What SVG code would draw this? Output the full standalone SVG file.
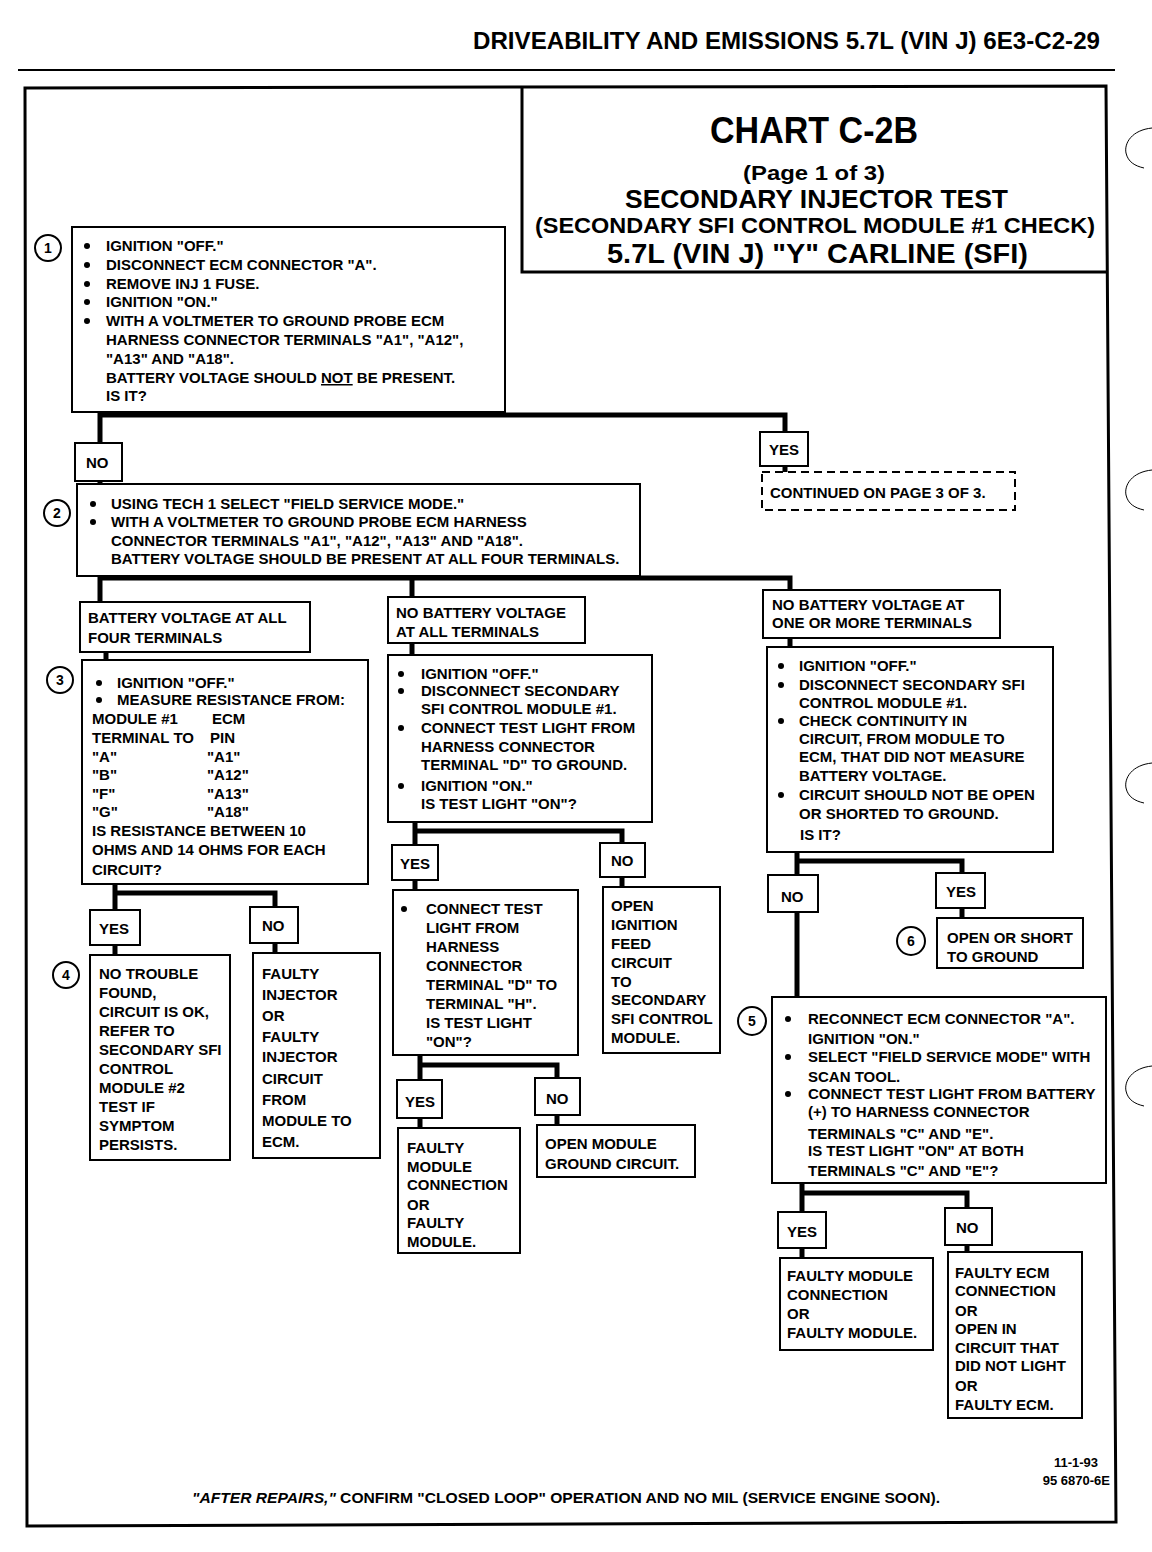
<svg xmlns="http://www.w3.org/2000/svg" width="1152" height="1552" viewBox="0 0 1152 1552">
<style>
.bx{fill:#fff;stroke:#000;stroke-width:2}
.t{font-family:"Liberation Sans",Arial,sans-serif;font-weight:bold;font-size:15px;fill:#000}
.c{fill:none;stroke:#000;stroke-width:5}
.num{fill:#fff;stroke:#000;stroke-width:2}
.nt{font-family:"Liberation Sans",Arial,sans-serif;font-weight:bold;font-size:14px;text-anchor:middle;fill:#000}
.dot{fill:#000}
.hole{fill:none;stroke:#000;stroke-width:1}
</style>
<rect width="1152" height="1552" fill="#fff"/>

<g id="page">
  <text class="t" x="473" y="49" style="font-size:24px" textLength="627" lengthAdjust="spacingAndGlyphs">DRIVEABILITY AND EMISSIONS  5.7L  (VIN J)  6E3-C2-29</text>
  <line x1="18" y1="70" x2="1115" y2="70" stroke="#000" stroke-width="2"/>
  <path d="M25,88 L1106,86 L1116,1522 L27,1526 Z" fill="none" stroke="#000" stroke-width="3"/>
  <path class="hole" d="M1152,128 C1132,130 1124,143 1126,153 C1128,162 1135,166 1144,168"/>
  <path class="hole" d="M1152,470 C1132,472 1124,485 1126,495 C1128,504 1135,508 1144,510"/>
  <path class="hole" d="M1152,763 C1132,765 1124,778 1126,788 C1128,797 1135,801 1144,803"/>
  <path class="hole" d="M1152,1066 C1132,1068 1124,1081 1126,1091 C1128,1100 1135,1104 1144,1106"/>
</g>

<g id="title">
  <path d="M522,87 V272 H1107" fill="none" stroke="#000" stroke-width="3"/>
  <text class="t" x="710" y="143" style="font-size:36px" textLength="208" lengthAdjust="spacingAndGlyphs">CHART C-2B</text>
  <text class="t" x="743" y="180" style="font-size:21px" textLength="142" lengthAdjust="spacingAndGlyphs">(Page 1 of 3)</text>
  <text class="t" x="625" y="208" style="font-size:25px" textLength="383" lengthAdjust="spacingAndGlyphs">SECONDARY INJECTOR TEST</text>
  <text class="t" x="535" y="233" style="font-size:22px" textLength="560" lengthAdjust="spacingAndGlyphs">(SECONDARY SFI CONTROL MODULE #1 CHECK)</text>
  <text class="t" x="607" y="263" style="font-size:27px" textLength="421" lengthAdjust="spacingAndGlyphs">5.7L  (VIN J)  "Y"  CARLINE  (SFI)</text>
</g>

<g id="connectors">
  <path class="c" d="M100,412 V443 M100,415 H785 V432 M785,466 V472 M100,481 V484"/>
  <path class="c" d="M100,576 V602 M100,578 H790 V590 M412,578 V597 M106,652 V660 M412,643 V655 M790,638 V647"/>
  <path class="c" d="M115,884 V910 M115,893 H275 V907 M115,945 V955 M275,943 V953"/>
  <path class="c" d="M415,822 V845 M415,831 H622 V843 M415,880 V890 M622,877 V887"/>
  <path class="c" d="M420,1055 V1080 M420,1065 H557 V1078 M420,1118 V1128 M557,1115 V1125"/>
  <path class="c" d="M797,852 V875 M797,861 H962 V873 M962,908 V918 M797,912 V997"/>
  <path class="c" d="M802,1183 V1212 M802,1193 H967 V1208 M802,1248 V1258 M967,1245 V1252"/>
</g>

<g id="n1">
  <circle class="num" cx="48" cy="248" r="13"/><text class="nt" x="48" y="253">1</text>
  <rect class="bx" x="72" y="227" width="433" height="185"/>
  <circle class="dot" cx="87" cy="246" r="3"/><circle class="dot" cx="87" cy="265" r="3"/><circle class="dot" cx="87" cy="284" r="3"/><circle class="dot" cx="87" cy="302" r="3"/><circle class="dot" cx="87" cy="321" r="3"/>
  <text class="t" x="106" y="251">IGNITION "OFF."</text>
  <text class="t" x="106" y="270">DISCONNECT ECM CONNECTOR "A".</text>
  <text class="t" x="106" y="289">REMOVE INJ 1 FUSE.</text>
  <text class="t" x="106" y="307">IGNITION "ON."</text>
  <text class="t" x="106" y="326">WITH A VOLTMETER TO GROUND PROBE ECM</text>
  <text class="t" x="106" y="345">HARNESS CONNECTOR TERMINALS "A1", "A12",</text>
  <text class="t" x="106" y="364">"A13" AND "A18".</text>
  <text class="t" x="106" y="383">BATTERY VOLTAGE SHOULD <tspan text-decoration="underline">NOT</tspan> BE PRESENT.</text>
  <text class="t" x="106" y="401">IS IT?</text>
</g>

<g id="l1no"><rect class="bx" x="75" y="443" width="47" height="38"/><text class="t" x="86" y="468">NO</text></g>
<g id="l1yes"><rect class="bx" x="760" y="432" width="48" height="34"/><text class="t" x="769" y="455">YES</text></g>
<g id="cont">
  <rect x="762" y="472" width="253" height="38" fill="#fff" stroke="#000" stroke-width="2" stroke-dasharray="8,5"/>
  <text class="t" x="770" y="498">CONTINUED ON PAGE 3 OF 3.</text>
</g>

<g id="n2">
  <circle class="num" cx="57" cy="513" r="13"/><text class="nt" x="57" y="518">2</text>
  <rect class="bx" x="77" y="484" width="563" height="92"/>
  <circle class="dot" cx="93" cy="504" r="3"/><circle class="dot" cx="93" cy="522" r="3"/>
  <text class="t" x="111" y="509">USING TECH 1 SELECT "FIELD SERVICE MODE."</text>
  <text class="t" x="111" y="527">WITH A VOLTMETER TO GROUND PROBE ECM HARNESS</text>
  <text class="t" x="111" y="546">CONNECTOR TERMINALS "A1", "A12", "A13" AND "A18".</text>
  <text class="t" x="111" y="564">BATTERY VOLTAGE SHOULD BE PRESENT AT ALL FOUR TERMINALS.</text>
</g>

<g id="l2a"><rect class="bx" x="80" y="602" width="230" height="50"/>
  <text class="t" x="88" y="623">BATTERY VOLTAGE AT ALL</text><text class="t" x="88" y="643">FOUR TERMINALS</text></g>

<g id="n3">
  <circle class="num" cx="60" cy="680" r="13"/><text class="nt" x="60" y="685">3</text>
  <rect class="bx" x="82" y="660" width="286" height="224"/>
  <circle class="dot" cx="99" cy="683" r="3"/><circle class="dot" cx="99" cy="700" r="3"/>
  <text class="t" x="117" y="688">IGNITION "OFF."</text>
  <text class="t" x="117" y="705">MEASURE RESISTANCE FROM:</text>
  <text class="t" x="92" y="724">MODULE #1</text><text class="t" x="212" y="724">ECM</text>
  <text class="t" x="92" y="743">TERMINAL TO</text><text class="t" x="210" y="743">PIN</text>
  <text class="t" x="92" y="762">"A"</text><text class="t" x="207" y="762">"A1"</text>
  <text class="t" x="92" y="780">"B"</text><text class="t" x="207" y="780">"A12"</text>
  <text class="t" x="92" y="799">"F"</text><text class="t" x="207" y="799">"A13"</text>
  <text class="t" x="92" y="817">"G"</text><text class="t" x="207" y="817">"A18"</text>
  <text class="t" x="92" y="836">IS RESISTANCE BETWEEN 10</text>
  <text class="t" x="92" y="855">OHMS AND 14 OHMS FOR EACH</text>
  <text class="t" x="92" y="875">CIRCUIT?</text>
</g>

<g id="l3yes"><rect class="bx" x="90" y="910" width="50" height="35"/><text class="t" x="99" y="934">YES</text></g>
<g id="l3no"><rect class="bx" x="250" y="907" width="48" height="36"/><text class="t" x="262" y="931">NO</text></g>

<g id="n4">
  <circle class="num" cx="66" cy="975" r="13"/><text class="nt" x="66" y="980">4</text>
  <rect class="bx" x="90" y="955" width="140" height="205"/>
  <text class="t" x="99" y="979">NO TROUBLE</text>
  <text class="t" x="99" y="998">FOUND,</text>
  <text class="t" x="99" y="1017">CIRCUIT IS OK,</text>
  <text class="t" x="99" y="1036">REFER TO</text>
  <text class="t" x="99" y="1055">SECONDARY SFI</text>
  <text class="t" x="99" y="1074">CONTROL</text>
  <text class="t" x="99" y="1093">MODULE #2</text>
  <text class="t" x="99" y="1112">TEST  IF</text>
  <text class="t" x="99" y="1131">SYMPTOM</text>
  <text class="t" x="99" y="1150">PERSISTS.</text>
</g>

<g id="faultyInj">
  <rect class="bx" x="253" y="953" width="127" height="205"/>
  <text class="t" x="262" y="979">FAULTY</text>
  <text class="t" x="262" y="1000">INJECTOR</text>
  <text class="t" x="262" y="1021">OR</text>
  <text class="t" x="262" y="1042">FAULTY</text>
  <text class="t" x="262" y="1062">INJECTOR</text>
  <text class="t" x="262" y="1084">CIRCUIT</text>
  <text class="t" x="262" y="1105">FROM</text>
  <text class="t" x="262" y="1126">MODULE TO</text>
  <text class="t" x="262" y="1147">ECM.</text>
</g>

<g id="l2b"><rect class="bx" x="388" y="597" width="197" height="46"/>
  <text class="t" x="396" y="618">NO BATTERY VOLTAGE</text><text class="t" x="396" y="637">AT ALL TERMINALS</text></g>

<g id="mid1">
  <rect class="bx" x="388" y="655" width="264" height="167"/>
  <circle class="dot" cx="401" cy="674" r="3"/><circle class="dot" cx="401" cy="691" r="3"/><circle class="dot" cx="401" cy="728" r="3"/><circle class="dot" cx="401" cy="786" r="3"/>
  <text class="t" x="421" y="679">IGNITION "OFF."</text>
  <text class="t" x="421" y="696">DISCONNECT SECONDARY</text>
  <text class="t" x="421" y="714">SFI CONTROL MODULE #1.</text>
  <text class="t" x="421" y="733">CONNECT TEST LIGHT FROM</text>
  <text class="t" x="421" y="752">HARNESS CONNECTOR</text>
  <text class="t" x="421" y="770">TERMINAL "D" TO GROUND.</text>
  <text class="t" x="421" y="791">IGNITION "ON."</text>
  <text class="t" x="421" y="809">IS TEST LIGHT "ON"?</text>
</g>

<g id="m1yes"><rect class="bx" x="392" y="845" width="46" height="35"/><text class="t" x="400" y="869">YES</text></g>
<g id="m1no"><rect class="bx" x="600" y="843" width="45" height="34"/><text class="t" x="611" y="866">NO</text></g>

<g id="mid2">
  <rect class="bx" x="393" y="890" width="185" height="165"/>
  <circle class="dot" cx="404" cy="909" r="3"/>
  <text class="t" x="426" y="914">CONNECT TEST</text>
  <text class="t" x="426" y="933">LIGHT FROM</text>
  <text class="t" x="426" y="952">HARNESS</text>
  <text class="t" x="426" y="971">CONNECTOR</text>
  <text class="t" x="426" y="990">TERMINAL "D" TO</text>
  <text class="t" x="426" y="1009">TERMINAL "H".</text>
  <text class="t" x="426" y="1028">IS TEST LIGHT</text>
  <text class="t" x="426" y="1047">"ON"?</text>
</g>

<g id="openIgn">
  <rect class="bx" x="603" y="887" width="117" height="166"/>
  <text class="t" x="611" y="911">OPEN</text>
  <text class="t" x="611" y="930">IGNITION</text>
  <text class="t" x="611" y="949">FEED</text>
  <text class="t" x="611" y="968">CIRCUIT</text>
  <text class="t" x="611" y="987">TO</text>
  <text class="t" x="611" y="1005">SECONDARY</text>
  <text class="t" x="611" y="1024">SFI CONTROL</text>
  <text class="t" x="611" y="1043">MODULE.</text>
</g>

<g id="m2yes"><rect class="bx" x="397" y="1080" width="45" height="38"/><text class="t" x="405" y="1107">YES</text></g>
<g id="m2no"><rect class="bx" x="535" y="1078" width="45" height="37"/><text class="t" x="546" y="1104">NO</text></g>

<g id="faultyMod1">
  <rect class="bx" x="398" y="1128" width="122" height="125"/>
  <text class="t" x="407" y="1153">FAULTY</text>
  <text class="t" x="407" y="1172">MODULE</text>
  <text class="t" x="407" y="1190">CONNECTION</text>
  <text class="t" x="407" y="1210">OR</text>
  <text class="t" x="407" y="1228">FAULTY</text>
  <text class="t" x="407" y="1247">MODULE.</text>
</g>

<g id="openGnd">
  <rect class="bx" x="537" y="1125" width="158" height="52"/>
  <text class="t" x="545" y="1149">OPEN MODULE</text>
  <text class="t" x="545" y="1169">GROUND CIRCUIT.</text>
</g>

<g id="l2c"><rect class="bx" x="763" y="590" width="237" height="48"/>
  <text class="t" x="772" y="610">NO BATTERY VOLTAGE AT</text><text class="t" x="772" y="628">ONE OR MORE TERMINALS</text></g>

<g id="right1">
  <rect class="bx" x="767" y="647" width="286" height="205"/>
  <circle class="dot" cx="781" cy="666" r="3"/><circle class="dot" cx="781" cy="685" r="3"/><circle class="dot" cx="781" cy="721" r="3"/><circle class="dot" cx="781" cy="795" r="3"/>
  <text class="t" x="799" y="671">IGNITION "OFF."</text>
  <text class="t" x="799" y="690">DISCONNECT SECONDARY SFI</text>
  <text class="t" x="799" y="708">CONTROL MODULE #1.</text>
  <text class="t" x="799" y="726">CHECK CONTINUITY IN</text>
  <text class="t" x="799" y="744">CIRCUIT, FROM MODULE TO</text>
  <text class="t" x="799" y="762">ECM, THAT DID NOT MEASURE</text>
  <text class="t" x="799" y="781">BATTERY VOLTAGE.</text>
  <text class="t" x="799" y="800">CIRCUIT SHOULD NOT BE OPEN</text>
  <text class="t" x="799" y="819">OR SHORTED TO GROUND.</text>
  <text class="t" x="800" y="840">IS IT?</text>
</g>

<g id="r1no"><rect class="bx" x="768" y="875" width="50" height="37"/><text class="t" x="781" y="902">NO</text></g>
<g id="r1yes"><rect class="bx" x="936" y="873" width="49" height="35"/><text class="t" x="946" y="897">YES</text></g>

<g id="n6">
  <circle class="num" cx="911" cy="941" r="14"/><text class="nt" x="911" y="946">6</text>
  <rect class="bx" x="937" y="918" width="146" height="50"/>
  <text class="t" x="947" y="943">OPEN OR SHORT</text>
  <text class="t" x="947" y="962">TO GROUND</text>
</g>

<g id="n5">
  <circle class="num" cx="752" cy="1021" r="14"/><text class="nt" x="752" y="1026">5</text>
  <rect class="bx" x="772" y="997" width="334" height="186"/>
  <circle class="dot" cx="788" cy="1019" r="3"/><circle class="dot" cx="788" cy="1057" r="3"/><circle class="dot" cx="788" cy="1094" r="3"/>
  <text class="t" x="808" y="1024">RECONNECT ECM CONNECTOR "A".</text>
  <text class="t" x="808" y="1044">IGNITION "ON."</text>
  <text class="t" x="808" y="1062">SELECT "FIELD SERVICE MODE" WITH</text>
  <text class="t" x="808" y="1082">SCAN TOOL.</text>
  <text class="t" x="808" y="1099">CONNECT TEST LIGHT FROM BATTERY</text>
  <text class="t" x="808" y="1117">(+) TO HARNESS CONNECTOR</text>
  <text class="t" x="808" y="1139">TERMINALS "C" AND "E".</text>
  <text class="t" x="808" y="1156">IS TEST LIGHT "ON" AT BOTH</text>
  <text class="t" x="808" y="1176">TERMINALS "C" AND "E"?</text>
</g>

<g id="r5yes"><rect class="bx" x="778" y="1212" width="48" height="36"/><text class="t" x="787" y="1237">YES</text></g>
<g id="r5no"><rect class="bx" x="945" y="1208" width="47" height="37"/><text class="t" x="956" y="1233">NO</text></g>

<g id="faultyMod2">
  <rect class="bx" x="780" y="1258" width="153" height="92"/>
  <text class="t" x="787" y="1281">FAULTY MODULE</text>
  <text class="t" x="787" y="1300">CONNECTION</text>
  <text class="t" x="787" y="1319">OR</text>
  <text class="t" x="787" y="1338">FAULTY MODULE.</text>
</g>

<g id="faultyEcm">
  <rect class="bx" x="948" y="1252" width="134" height="166"/>
  <text class="t" x="955" y="1278">FAULTY ECM</text>
  <text class="t" x="955" y="1296">CONNECTION</text>
  <text class="t" x="955" y="1316">OR</text>
  <text class="t" x="955" y="1334">OPEN IN</text>
  <text class="t" x="955" y="1353">CIRCUIT THAT</text>
  <text class="t" x="955" y="1371">DID NOT LIGHT</text>
  <text class="t" x="955" y="1391">OR</text>
  <text class="t" x="955" y="1410">FAULTY ECM.</text>
</g>

<g id="footer">
  <text class="t" x="1076" y="1467" style="font-size:13px" text-anchor="middle">11-1-93</text>
  <text class="t" x="1110" y="1485" style="font-size:13px" text-anchor="end">95 6870-6E</text>
  <text class="t" x="192" y="1503" textLength="748" lengthAdjust="spacingAndGlyphs"><tspan font-style="italic">"AFTER REPAIRS,"</tspan> CONFIRM "CLOSED LOOP" OPERATION AND NO MIL (SERVICE ENGINE SOON).</text>
</g>
</svg>
